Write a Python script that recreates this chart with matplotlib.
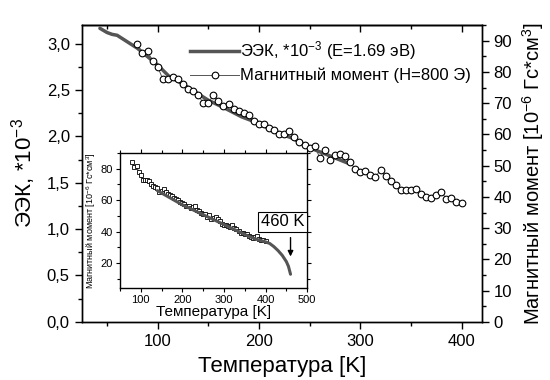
import matplotlib
matplotlib.use('Agg')
import matplotlib.pyplot as plt
from matplotlib.ticker import MultipleLocator, FuncFormatter, NullFormatter
from matplotlib.lines import Line2D

plt.rcParams['font.family'] = ['Liberation Sans', 'DejaVu Sans']
plt.rcParams['mathtext.fontset'] = 'custom'
plt.rcParams['mathtext.rm'] = 'Liberation Sans'
plt.rcParams['mathtext.it'] = 'Liberation Sans:italic'
plt.rcParams['axes.linewidth'] = 1.0

# EEK curve (left axis, *10^-3)
eek_t = [43, 50, 55, 60, 70, 80, 90, 100, 111, 124, 134, 150, 167, 183, 200,
         216, 233, 254, 270, 288]
eek_v = [3.165, 3.12, 3.10, 3.09, 3.02, 2.95, 2.86, 2.77, 2.65, 2.57, 2.50,
         2.39, 2.30, 2.21, 2.14, 2.05, 1.98, 1.86, 1.79, 1.71]

# magnetic moment, H=800 Oe (right axis, 10^-6 G*cm^3)
mag_t = list(range(80, 405, 5))
mag_v = [88.9, 86.1, 86.6, 83.6, 81.6, 77.8, 77.8, 78.4, 77.8, 76.1,
         74.5, 74.0, 72.7, 70.0, 70.0, 72.7, 70.6, 69.0, 69.7, 68.2,
         67.6, 67.0, 66.1, 64.4, 63.3, 63.3, 62.0, 61.3, 60.2, 60.2,
         61.0, 59.1, 57.5, 56.7, 55.6, 56.2, 52.6, 55.1, 51.9, 53.3,
         53.7, 53.2, 51.1, 48.9, 47.9, 48.2, 46.9, 46.3, 48.7, 46.6,
         45.2, 43.7, 42.3, 42.1, 42.3, 42.6, 41.0, 39.9, 39.6, 40.7,
         41.7, 39.3, 39.6, 38.3, 38.0]

# inset: measured points and extrapolated curve up to Tc
ins_t = list(range(80, 405, 5))
ins_v = [84, 81, 81.5, 78, 76, 72.5, 72.5, 73, 72, 70.5,
         69, 68.5, 67.5, 65, 65.5, 67, 65, 64, 63.5, 62.5,
         61.5, 61, 60, 58.5, 58, 57.5, 56.5, 56, 55, 55.5,
         56, 54, 53, 52, 51, 51.5, 49, 50.5, 48, 48.5,
         49, 48, 46.5, 45, 44.5, 44, 43.5, 43, 44, 42.5,
         41.5, 40.5, 39, 39, 38.5, 38.5, 37.5, 36.5, 36, 36.5,
         37, 35.5, 35, 34.5, 34]
fit_t = [140, 160, 180, 200, 220, 240, 260, 280, 300, 320, 340, 360, 380,
         400, 410, 420, 430, 440, 450, 455, 460]
fit_v = [66, 63, 60, 57, 54.5, 52, 49.5, 47, 44.5, 42, 39.5, 37, 35,
         33.5, 32.5, 30.5, 28, 25, 21, 18, 13]

comma = FuncFormatter(lambda v, p: f'{v:.1f}'.replace('.', ','))

fig = plt.figure(figsize=(5.5, 3.8), dpi=100)
ax = fig.add_axes([0.1485, 0.153, 0.7275, 0.781])
ax2 = ax.twinx()

ax.plot(eek_t, eek_v, color='#555555', lw=2.5, solid_capstyle='round')
ax2.plot(mag_t, mag_v, color='#555555', lw=0.7, marker='o', ms=4.8,
         mfc='white', mec='black', mew=0.8)

ax.set_xlim(25, 420)
ax.set_ylim(0, 3.2)
ax2.set_ylim(0, 95)

ax.xaxis.set_major_locator(MultipleLocator(100))
ax.xaxis.set_minor_locator(MultipleLocator(50))
ax.yaxis.set_major_locator(MultipleLocator(0.5))
ax.yaxis.set_minor_locator(MultipleLocator(0.25))
ax.yaxis.set_major_formatter(comma)
ax2.yaxis.set_major_locator(MultipleLocator(10))
ax2.yaxis.set_minor_locator(MultipleLocator(5))

ax.tick_params(axis='both', which='major', labelsize=12, length=5, width=1)
ax.tick_params(axis='both', which='minor', length=3, width=1)
ax2.tick_params(which='major', labelsize=12, length=5, width=1)
ax2.tick_params(which='minor', length=3, width=1)

# top ticks point into the plot
top = ax.secondary_xaxis('top')
top.xaxis.set_major_locator(MultipleLocator(100))
top.xaxis.set_minor_locator(MultipleLocator(50))
top.xaxis.set_major_formatter(NullFormatter())
top.tick_params(which='major', direction='in', length=5, width=1)
top.tick_params(which='minor', direction='in', length=3, width=1)

ax.set_xlabel('Температура [K]', fontsize=16, labelpad=5)
ax.set_ylabel('ЭЭК, *10$^{-3}$', fontsize=16, labelpad=6)
ax2.set_ylabel('Магнитный момент [10$^{-6}$ Гс*см$^{3}$]', fontsize=14.5, labelpad=6)

handles = [
    Line2D([], [], color='#555555', lw=2.5),
    Line2D([], [], color='#555555', lw=0.7, marker='o', ms=4.8,
           mfc='white', mec='black', mew=0.8),
]
labels = ['ЭЭК, *10$^{-3}$ (E=1.69 эВ)', 'Магнитный момент (H=800 Э)']
ax2.legend(handles, labels, loc='upper left', bbox_to_anchor=(0.255, 0.975),
           frameon=False, fontsize=12, handlelength=2.9, handletextpad=0.1,
           borderaxespad=0, labelspacing=0.35)

# inset
ins = fig.add_axes([0.218, 0.243, 0.3405, 0.355])
ins.set_facecolor('white')
ins.plot(ins_t, ins_v, color='black', lw=0.6, marker='s', ms=2.4,
         mfc='white', mec='black', mew=0.6)
ins.plot(fit_t, fit_v, color='#555555', lw=2.2, solid_capstyle='round')
ins.set_xlim(50, 500)
ins.set_ylim(4.5, 90)
ins.xaxis.set_major_locator(MultipleLocator(100))
ins.xaxis.set_minor_locator(MultipleLocator(50))
ins.yaxis.set_major_locator(MultipleLocator(20))
ins.yaxis.set_minor_locator(MultipleLocator(10))
ins.tick_params(which='major', labelsize=8, length=3, width=0.8, pad=2)
ins.tick_params(which='minor', length=2, width=0.8)
ins.tick_params(axis='x', which='both', top=True)
ins.tick_params(axis='y', which='both', right=True)
ins.set_xlabel('Температура [K]', fontsize=11, labelpad=0)
ins.set_ylabel('Магнитный момент [10$^{-6}$ Гс*см$^{3}$]', fontsize=6.5, labelpad=2)

ins.annotate('', xy=(460, 22.5), xytext=(460, 38),
             arrowprops=dict(arrowstyle='-|>', color='black', lw=1, mutation_scale=8))
ins.text(441, 46.4, '460 K', fontsize=12, ha='center', va='center',
         bbox=dict(boxstyle='square,pad=0.15', fc='white', ec='black', lw=0.8))

fig.savefig('out.png', dpi=100)
